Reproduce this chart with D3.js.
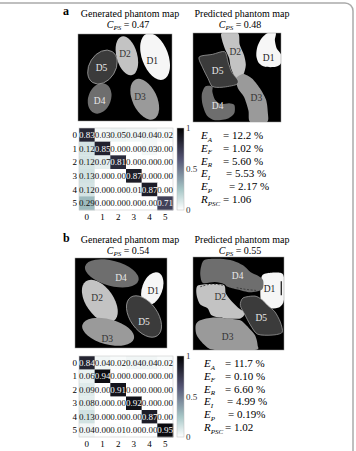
<!DOCTYPE html>
<html>
<head>
<meta charset="utf-8">
<script src="https://cdn.jsdelivr.net/npm/d3@7"></script>
<style>
  body { margin: 0; background: #fff; }
  text { font-family: "Liberation Serif", "Times New Roman", serif; }
</style>
</head>
<body>
<script>
'use strict';

// ---- data ----
const classes = ["0", "1", "2", "3", "4", "5"];

const confA = [
  [0.83, 0.03, 0.05, 0.04, 0.04, 0.02],
  [0.12, 0.85, 0.00, 0.00, 0.03, 0.00],
  [0.12, 0.07, 0.81, 0.00, 0.00, 0.00],
  [0.13, 0.00, 0.00, 0.87, 0.00, 0.00],
  [0.12, 0.00, 0.00, 0.01, 0.87, 0.00],
  [0.29, 0.00, 0.00, 0.00, 0.00, 0.71]
];
const confB = [
  [0.84, 0.04, 0.02, 0.04, 0.04, 0.02],
  [0.06, 0.94, 0.00, 0.00, 0.00, 0.00],
  [0.09, 0.00, 0.91, 0.00, 0.00, 0.00],
  [0.08, 0.00, 0.00, 0.92, 0.00, 0.00],
  [0.13, 0.00, 0.00, 0.00, 0.87, 0.00],
  [0.04, 0.00, 0.01, 0.00, 0.00, 0.95]
];

const metricNames = [["E", "A"], ["E", "F"], ["E", "R"], ["E", "I"], ["E", "P"], ["R", "PSC"]];
const metricsA = ["12.2 %", "1.02 %", "5.60 %", "5.53 %", "2.17 %", "1.06"];
const metricsB = ["11.7 %", "0.10 %", "6.60 %", "4.99 %", "0.19%", "1.02"];

const titles = ["Generated phantom map", "Predicted phantom map"];
const cpsA = ["0.47", "0.48"];
const cpsB = ["0.54", "0.55"];

// generated maps: ellipses in map units (0-100)
const genA = [
  {id: "D1", cx: 82, cy: 26, rx: 14, ry: 28, rot: -20, lx: 79, ly: 30},
  {id: "D2", cx: 52, cy: 25, rx: 11, ry: 23, rot: -15, lx: 50, ly: 22},
  {id: "D3", cx: 71, cy: 75, rx: 13, ry: 25, rot: -25, lx: 66, ly: 72},
  {id: "D4", cx: 23, cy: 74, rx: 12, ry: 18, rot: 20, lx: 23, ly: 76},
  {id: "D5", cx: 26, cy: 38, rx: 14, ry: 21, rot: 32, lx: 25, ly: 38}
];
const genB = [
  {id: "D1", cx: 84, cy: 34, rx: 11, ry: 19, rot: 20, lx: 85, ly: 36},
  {id: "D2", cx: 27, cy: 48, rx: 15, ry: 27, rot: -35, lx: 24, ly: 44},
  {id: "D3", cx: 36, cy: 82, rx: 29, ry: 14, rot: 15, lx: 35, ly: 89},
  {id: "D4", cx: 40, cy: 17, rx: 30, ry: 14, rot: 15, lx: 50, ly: 22},
  {id: "D5", cx: 75, cy: 65, rx: 15, ry: 26, rot: -35, lx: 75, ly: 70}
];

// predicted maps: outlines in map units (0-100)
const predA = [
  {id: "D1", lx: 86, ly: 27, pts: [[85,0],[94,0],[93,8],[95,17],[100,24],[100,34],[94,38],[82,38],[75,34],[72,26],[73,16],[78,6]]},
  {id: "D2", lx: 48, ly: 21, pts: [[33,0],[51,0],[53,13],[58,25],[60,36],[57,47],[49,51],[43,39],[41,28],[36,17],[33,8]]},
  {id: "D3", lx: 72, ly: 72, pts: [[49,51],[57,46],[67,51],[76,62],[83,75],[85,89],[84,100],[65,100],[63,87],[58,72],[51,62]]},
  {id: "D4", lx: 28, ly: 81, pts: [[14,60],[22,60],[22,66],[25,75],[32,80],[41,79],[47,81],[47,90],[40,96],[25,98],[16,93],[11,81],[10,69]]},
  {id: "D5", lx: 28, ly: 42, pts: [[7,27],[22,24],[36,21],[40,33],[44,44],[51,53],[49,58],[33,61],[22,60],[17,51],[11,39]]}
];
const predB = [
  {id: "D1", lx: 84, ly: 34, pts: [[76,20],[85,17],[96,17],[100,22],[100,46],[95,54],[82,55],[75,49],[74,35]]},
  {id: "D2", lx: 30, ly: 43, pts: [[5,31],[19,29],[34,30],[36,39],[41,46],[49,54],[57,60],[52,66],[35,66],[21,63],[16,55],[8,51],[4,41]]},
  {id: "D3", lx: 38, ly: 86, pts: [[8,68],[22,65],[38,66],[52,68],[59,74],[68,84],[71,95],[68,100],[24,100],[13,95],[4,84],[3,73]]},
  {id: "D4", lx: 49, ly: 20, pts: [[13,3],[30,2],[44,4],[55,9],[63,16],[71,20],[77,25],[76,35],[63,38],[49,35],[38,32],[34,29],[24,27],[11,28],[8,19],[9,10]]},
  {id: "D5", lx: 75, ly: 65, pts: [[55,44],[68,42],[76,46],[82,52],[90,59],[96,70],[98,81],[87,84],[71,83],[63,73],[57,62],[52,52]]}
];
// stray marks on predicted map b
const predBDashes = [[[8,32],[21,28],[35,31]], [[48,33],[58,35],[70,36]]];
const predBBar = [[97,26],[97,41]];

// ---- styles ----
const regionFill = {D1: "#f6f6f6", D2: "#c3c3c3", D3: "#9a9a9a", D4: "#6e6e6e", D5: "#3b3b3b"};
const regionText = {D1: "#222", D2: "#333", D3: "#333", D4: "#e8e8e8", D5: "#e8e8e8"};

// reversed MATLAB "bone"
function bone(x) {
  const rh = Math.min(1, x / 0.375),
        gh = Math.max(0, Math.min(1, (x - 0.375) / 0.375)),
        bh = Math.max(0, Math.min(1, (x - 0.75) / 0.25));
  return d3.rgb(255 * (7 * x + bh) / 8, 255 * (7 * x + gh) / 8, 255 * (7 * x + rh) / 8);
}
const cmap = (v) => bone(1 - v);

const width = 356, height = 451;

const svg = d3.select("body").append("svg")
    .attr("width", width)
    .attr("height", height);

// frame
svg.append("path")
    .attr("d", "M0,3 H345 A8,8 0 0 1 353,11 V451")
    .attr("fill", "none")
    .attr("stroke", "#aaa")
    .attr("stroke-width", 1.5);

const grad = svg.append("defs").append("linearGradient")
    .attr("id", "cbar").attr("x1", 0).attr("x2", 0).attr("y1", 1).attr("y2", 0);
d3.range(0, 1.0001, 0.05).forEach((t) => {
  grad.append("stop").attr("offset", t).attr("stop-color", cmap(t));
});

const panels = [
  {letter: "a", ly: 15, tY: 17, gen: genA, pred: predA, conf: confA, metrics: metricsA, cps: cpsA,
   genBox: [78, 34, 94, 87], predBox: [193, 33, 88, 89], hm: [79, 128, 94, 82],
   txt: [201, 139], eq: [22, 22, 22, 25, 28, 22]},
  {letter: "b", ly: 242, tY: 243, gen: genB, pred: predB, conf: confB, metrics: metricsB, cps: cpsB,
   genBox: [75, 258, 92, 90], predBox: [193, 257, 91, 93], hm: [79, 356, 94, 81],
   txt: [204, 367], eq: [21, 21, 21, 23, 24, 21]}
];
const titleX = [130, 242];

panels.forEach((p, pi) => {
  const g = svg.append("g");

  g.append("text")
      .attr("x", 63).attr("y", p.ly)
      .attr("font-size", 12).attr("font-weight", "bold")
      .text(p.letter);

  titles.forEach((t, i) => {
    g.append("text")
        .attr("x", titleX[i]).attr("y", p.tY)
        .attr("text-anchor", "middle").attr("font-size", 10)
        .text(t);
    const c = g.append("text")
        .attr("x", titleX[i] - 2).attr("y", p.tY + 11)
        .attr("text-anchor", "middle").attr("font-size", 10);
    c.append("tspan").attr("font-style", "italic").text("C");
    c.append("tspan").attr("font-style", "italic").attr("font-size", 7).attr("dy", 2).text("PS");
    c.append("tspan").attr("dy", -2).text(" = " + p.cps[i]);
  });

  // phantom maps
  [p.genBox, p.predBox].forEach((box, bi) => {
    const [bx, by, bw, bh] = box;
    const x = d3.scaleLinear().domain([0, 100]).range([bx, bx + bw]);
    const y = d3.scaleLinear().domain([0, 100]).range([by, by + bh]);
    const cid = "clip" + pi + bi;
    g.append("clipPath").attr("id", cid)
      .append("rect").attr("x", bx).attr("y", by).attr("width", bw).attr("height", bh);
    const m = g.append("g").attr("clip-path", "url(#" + cid + ")");
    m.append("rect").attr("x", bx).attr("y", by).attr("width", bw).attr("height", bh)
        .attr("fill", "#000");

    if (bi === 0) {
      m.selectAll("ellipse").data(p.gen).enter().append("ellipse")
          .attr("transform", (d) => `translate(${x(d.cx)},${y(d.cy)}) rotate(${d.rot})`)
          .attr("rx", (d) => x(d.rx) - x(0))
          .attr("ry", (d) => y(d.ry) - y(0))
          .attr("fill", (d) => regionFill[d.id])
          .attr("stroke", (d) => d.id === "D5" ? "#aaa" : "none")
          .attr("stroke-width", 0.7);
    } else {
      const line = d3.line().x((d) => x(d[0])).y((d) => y(d[1]))
          .curve(d3.curveCardinalClosed.tension(0.2));
      m.selectAll("path.reg").data(p.pred).enter().append("path")
          .attr("class", "reg")
          .attr("d", (d) => line(d.pts))
          .attr("fill", (d) => regionFill[d.id])
          .attr("stroke", (d) => d.id === "D5" ? "#aaa" : "none")
          .attr("stroke-width", 0.7);
      if (pi === 1) {
        const open = d3.line().x((d) => x(d[0])).y((d) => y(d[1])).curve(d3.curveBasis);
        m.selectAll("path.dash").data(predBDashes).enter().append("path")
            .attr("class", "dash")
            .attr("d", open)
            .attr("fill", "none").attr("stroke", "#333")
            .attr("stroke-width", 0.8).attr("stroke-dasharray", "2,1.5");
        m.append("path").attr("d", open(predBBar))
            .attr("stroke", "#111").attr("stroke-width", 1.2);
      }
    }
    const data = bi === 0 ? p.gen : p.pred;
    m.selectAll("text").data(data).enter().append("text")
        .attr("x", (d) => x(d.lx)).attr("y", (d) => y(d.ly) + 3.5)
        .attr("text-anchor", "middle").attr("font-size", 9.5)
        .attr("fill", (d) => regionText[d.id])
        .text((d) => d.id);
    g.append("rect").attr("x", bx).attr("y", by).attr("width", bw).attr("height", bh)
        .attr("fill", "none").attr("stroke", "#999").attr("stroke-width", 0.5);
  });

  // confusion matrix
  const [hx, hy, hw, hh] = p.hm;
  const xb = d3.scaleBand().domain(classes).range([hx, hx + hw]);
  const yb = d3.scaleBand().domain(classes).range([hy, hy + hh]);
  const cells = [];
  p.conf.forEach((row, r) => row.forEach((v, c) => cells.push({r: classes[r], c: classes[c], v: v})));

  g.selectAll("rect.cell").data(cells).enter().append("rect")
      .attr("class", "cell")
      .attr("x", (d) => xb(d.c)).attr("y", (d) => yb(d.r))
      .attr("width", xb.bandwidth() + 0.3).attr("height", yb.bandwidth() + 0.3)
      .attr("fill", (d) => cmap(d.v));
  g.append("rect").attr("x", hx).attr("y", hy).attr("width", hw).attr("height", hh)
      .attr("fill", "none").attr("stroke", "#ccc").attr("stroke-width", 0.6);
  g.selectAll("text.cell").data(cells).enter().append("text")
      .attr("class", "cell")
      .attr("x", (d) => xb(d.c) + xb.bandwidth() / 2)
      .attr("y", (d) => yb(d.r) + yb.bandwidth() / 2 + 3.2)
      .attr("text-anchor", "middle").attr("font-size", 9)
      .attr("fill", (d) => d.v > 0.5 ? "#fff" : "#111")
      .text((d) => d.v.toFixed(2));

  g.selectAll("text.row").data(classes).enter().append("text")
      .attr("class", "row")
      .attr("x", hx - 2).attr("y", (d) => yb(d) + yb.bandwidth() / 2 + 3.2)
      .attr("text-anchor", "end").attr("font-size", 9)
      .text((d) => d);
  g.selectAll("text.col").data(classes).enter().append("text")
      .attr("class", "col")
      .attr("x", (d) => xb(d) + xb.bandwidth() / 2).attr("y", hy + hh + 10)
      .attr("text-anchor", "middle").attr("font-size", 9)
      .text((d) => d);

  // colorbar
  const cy = d3.scaleLinear().domain([0, 1]).range([hy + hh, hy]);
  g.append("rect").attr("x", hx + hw + 4).attr("y", hy).attr("width", 7).attr("height", hh)
      .attr("fill", "url(#cbar)").attr("stroke", "#bbb").attr("stroke-width", 0.5);
  g.selectAll("text.cb").data([0, 0.5, 1]).enter().append("text")
      .attr("class", "cb")
      .attr("x", hx + hw + 13).attr("y", (d) => cy(d) + 3)
      .attr("font-size", 9).attr("fill", "#333")
      .text((d) => d);

  // metrics
  const [tx, ty] = p.txt;
  metricNames.forEach((mn, i) => {
    const t = g.append("text").attr("x", tx).attr("y", ty + i * 12.8).attr("font-size", 11);
    t.append("tspan").attr("font-style", "italic").text(mn[0]);
    t.append("tspan").attr("font-style", "italic").attr("font-size", 7).attr("dy", 2.5).text(mn[1]);
    g.append("text").attr("x", tx + p.eq[i]).attr("y", ty + i * 12.8).attr("font-size", 11)
        .text("= " + p.metrics[i]);
  });
});
</script>
</body>
</html>
